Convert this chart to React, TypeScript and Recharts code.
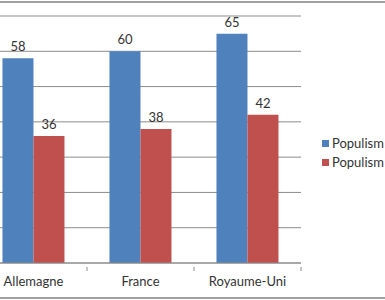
import React from 'react';
import { BarChart, Bar, XAxis, YAxis, CartesianGrid, LabelList } from 'recharts';

// ── Données ──────────────────────────────────────────────────────────────
const PAYS = ['Allemagne', 'France', 'Royaume-Uni'];
const SERIE_A = [58, 60, 65];
const SERIE_B = [36, 38, 42];
const NOMS = ['Populism', 'Populism'];
const Y_TICKS = [0, 10, 20, 30, 40, 50, 60, 70];

const BLEU = '#4F81BD';
const ROUGE = '#C0504D';
const GRILLE = '#8c8c8c';
const TEXTE = '#333333';
const FONT = 'Lato, "Open Sans", sans-serif';

const data = PAYS.map((p, i) => ({ pays: p, a: SERIE_A[i], b: SERIE_B[i] }));

// Tick à la Excel : étiquette au centre, petit trait entre catégories
const TickPays = (props: any) => {
  const { x, y, payload, index } = props;
  const half = payload.offset ?? 0;
  return (
    <g>
      <line x1={x - half} x2={x - half} y1={y - 10} y2={y - 6} stroke={GRILLE} />
      {index === PAYS.length - 1 && (
        <line x1={x + half} x2={x + half} y1={y - 10} y2={y - 6} stroke={GRILLE} />
      )}
      <text x={x} y={y} dy="0.71em" textAnchor="middle" fill={TEXTE} fontSize={13} fontFamily={FONT}>
        {payload.value}
      </text>
    </g>
  );
};

export default function App() {
  return (
    <div style={{ position: 'absolute', left: 0, top: 0, width: 385, height: 300, overflow: 'hidden', background: '#fff' }}>
      {/* bordures du cadre */}
      <div style={{ position: 'absolute', left: 0, top: 1, width: 385, height: 1.5, background: '#a0a0a0' }} />
      <div style={{ position: 'absolute', left: 0, top: 297, width: 385, height: 1.5, background: '#a0a0a0' }} />

      <div style={{ position: 'absolute', left: -60, top: 0 }}>
        <BarChart
          width={445}
          height={300}
          data={data}
          margin={{ top: 16, right: 84, bottom: 8, left: 40 }}
          barCategoryGap="21%"
          barGap={0}
        >
          <CartesianGrid vertical={false} stroke={GRILLE} strokeWidth={1} />
          <XAxis
            dataKey="pays"
            height={29}
            tickLine={false}
            axisLine={{ stroke: GRILLE }}
            tick={<TickPays />}
            tickMargin={8}
          />
          <YAxis hide domain={[0, 70]} ticks={Y_TICKS} />
          <Bar dataKey="a" name={NOMS[0]} fill={BLEU} isAnimationActive={false}>
            <LabelList dataKey="a" position="top" offset={7} fill={TEXTE} fontSize={13} fontFamily={FONT} />
          </Bar>
          <Bar dataKey="b" name={NOMS[1]} fill={ROUGE} isAnimationActive={false}>
            <LabelList dataKey="b" position="top" offset={7} fill={TEXTE} fontSize={13} fontFamily={FONT} />
          </Bar>
        </BarChart>
      </div>

      {/* légende */}
      <div style={{ position: 'absolute', left: 322, top: 134, fontFamily: FONT, fontSize: 13, color: TEXTE, lineHeight: '19px' }}>
        {NOMS.map((n, i) => (
          <div key={i} style={{ display: 'flex', alignItems: 'center', whiteSpace: 'nowrap' }}>
            <span style={{ display: 'inline-block', width: 7, height: 7, background: i === 0 ? BLEU : ROUGE, marginRight: 3 }} />
            {n}
          </div>
        ))}
      </div>
    </div>
  );
}
